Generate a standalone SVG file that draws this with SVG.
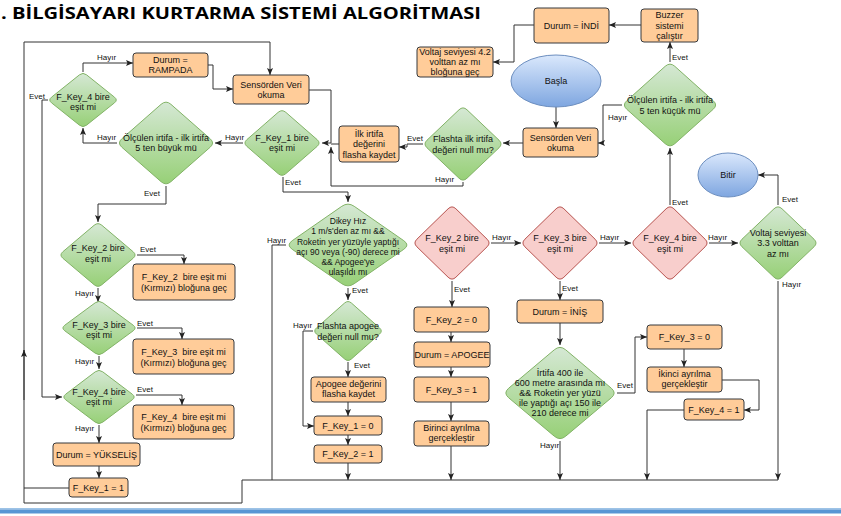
<svg xmlns="http://www.w3.org/2000/svg" xmlns:xlink="http://www.w3.org/1999/xlink" width="841" height="516" viewBox="0 0 841 516">
<defs>
<linearGradient id="gG" x1="0" y1="0" x2="0" y2="1"><stop offset="0" stop-color="#d5e8d4"/><stop offset="1" stop-color="#97d077"/></linearGradient>
<linearGradient id="gB" x1="0" y1="0" x2="0" y2="1"><stop offset="0" stop-color="#dae8fc"/><stop offset="1" stop-color="#7ea6e0"/></linearGradient>
<path id="dia" d="M-0.1,-0.9 Q0,-1 0.1,-0.9 L0.9,-0.1 Q1,0 0.9,0.1 L0.1,0.9 Q0,1 -0.1,0.9 L-0.9,0.1 Q-1,0 -0.9,-0.1 Z" vector-effect="non-scaling-stroke"/>
<marker id="ar" markerUnits="userSpaceOnUse" markerWidth="8" markerHeight="8" refX="7" refY="3" orient="auto" overflow="visible"><path d="M0,0 L7,3 L0,6 L1.5,3 Z" fill="#222"/></marker>
</defs>
<style>
.box{fill:#ffcc99;stroke:#36393d;stroke-width:1}
.g{fill:url(#gG);stroke:#82b366;stroke-width:1}
.r{fill:#f8cecc;stroke:#b85450;stroke-width:1}
.e{fill:url(#gB);stroke:#6c8ebf;stroke-width:1}
.t{font-family:"Liberation Sans",Arial,sans-serif;font-size:9px;fill:#111;text-anchor:middle}
.s{font-size:8.5px}
.p{white-space:pre}
.l{font-family:"Liberation Sans",Arial,sans-serif;font-size:8px;fill:#111}
.c{fill:none;stroke:#333;stroke-width:1}
.a{marker-end:url(#ar)}
</style>
<rect width="841" height="516" fill="#fff"/>
<text x="1" y="19" font-family="'Open Sans','Liberation Sans',sans-serif" font-weight="bold" font-size="16" textLength="480" lengthAdjust="spacingAndGlyphs" fill="#000">. BİLGİSAYARI KURTARMA SİSTEMİ ALGORİTMASI</text>
<rect x="0" y="508" width="841" height="1.5" fill="#9dc3e6"/>
<rect x="0" y="509.5" width="841" height="4" fill="#5896d4"/>

<g id="connectors">
<path class="c" d="M778,480 H242 V503 H24 V350"/>
<path class="c a" d="M24,400 V350"/>
<path class="c" d="M128,488 H24"/>
<path class="c a" d="M24,352 V42 H270 V75"/>
<path class="c a" d="M83,72 V63 H133"/>
<path class="c a" d="M208,65 H213 V89 H233"/>
<path class="c a" d="M48,100 H42 V397 H62"/>
<path class="c a" d="M117,143 H83 V128"/>
<path class="c a" d="M243,143 H215"/>
<path class="c a" d="M166,186 V204 H98 V222"/>
<path class="c a" d="M309,90 H331 V143 H322"/>
<path class="c" d="M339,144 H331"/>
<path class="c a" d="M463,182 V186 H331 V147"/>
<path class="c a" d="M423,144 H407 V147 H399"/>
<path class="c a" d="M523,143 H503"/>
<path class="c a" d="M556,107 V128"/>
<path class="c a" d="M622,105 H603 V143 H598"/>
<path class="c a" d="M670,62 V42"/>
<path class="c a" d="M641,25 H609"/>
<path class="c a" d="M534,25 H514 V62 H493"/>
<path class="c a" d="M283,177 V192 H348 V202"/>
<path class="c" d="M286,245 H272 V480"/>
<path class="c a" d="M348,288 V300"/>
<path class="c a" d="M313,331 H303 V426 H314"/>
<path class="c a" d="M348,362 V377"/>
<path class="c a" d="M348,402 V416"/>
<path class="c a" d="M348,435 V445"/>
<path class="c a" d="M348,463 V480"/>
<path class="c a" d="M491,243 H521"/>
<path class="c a" d="M452,281 V307"/>
<path class="c a" d="M451,332 V342"/>
<path class="c a" d="M451,367 V377"/>
<path class="c a" d="M451,402 V421"/>
<path class="c a" d="M451,446 V480"/>
<path class="c a" d="M599,243 H631"/>
<path class="c a" d="M560,281 V300"/>
<path class="c a" d="M560,323 V345"/>
<path class="c a" d="M617,393 H635 V337 H647"/>
<path class="c a" d="M560,441 V480"/>
<path class="c a" d="M684,349 V367"/>
<path class="c a" d="M722,380 H759 V410 H744"/>
<path class="c a" d="M684,410 H647 V480"/>
<path class="c a" d="M709,243 H738"/>
<path class="c a" d="M670,205 V148"/>
<path class="c a" d="M778,205 V175 H758"/>
<path class="c a" d="M778,281 V480"/>
<path class="c a" d="M137,255 H184 V264"/>
<path class="c a" d="M98,288 V302"/>
<path class="c a" d="M137,328 H182 V339"/>
<path class="c a" d="M99,356 V369"/>
<path class="c a" d="M136,395 H182 V405"/>
<path class="c a" d="M99,425 V443"/>
<path class="c a" d="M99,466 V478"/>
<text class="l" x="97" y="60">Hayır</text>
<text class="l" x="29" y="99">Evet</text>
<text class="l" x="97" y="140">Hayır</text>
<text class="l" x="225" y="140">Hayır</text>
<text class="l" x="144" y="196">Evet</text>
<text class="l" x="435" y="182">Hayır</text>
<text class="l" x="407" y="141">Evet</text>
<text class="l" x="608" y="120">Hayır</text>
<text class="l" x="672" y="60">Evet</text>
<text class="l" x="285" y="185">Evet</text>
<text class="l" x="267" y="243">Hayır</text>
<text class="l" x="352" y="293">Evet</text>
<text class="l" x="293" y="328">Hayır</text>
<text class="l" x="354" y="368">Evet</text>
<text class="l" x="492" y="240">Hayır</text>
<text class="l" x="454" y="292">Evet</text>
<text class="l" x="600" y="240">Hayır</text>
<text class="l" x="562" y="291">Evet</text>
<text class="l" x="617" y="388">Evet</text>
<text class="l" x="540" y="448">Hayır</text>
<text class="l" x="708" y="240">Hayır</text>
<text class="l" x="672" y="205">Evet</text>
<text class="l" x="782" y="202">Evet</text>
<text class="l" x="782" y="287">Hayır</text>
<text class="l" x="140" y="252">Evet</text>
<text class="l" x="75" y="296">Hayır</text>
<text class="l" x="137" y="326">Evet</text>
<text class="l" x="75" y="364">Hayır</text>
<text class="l" x="137" y="392">Evet</text>
<text class="l" x="75" y="431">Hayır</text>
</g>

<g id="n-rampada"><rect class="box" x="133" y="53" width="75" height="24" rx="3"/><text class="t"><tspan x="170.5" y="62.5">Durum =</tspan><tspan x="170.5" y="73">RAMPADA</tspan></text></g>
<g id="n-sensor1"><rect class="box" x="233" y="75" width="76" height="29" rx="3"/><text class="t"><tspan x="271" y="87.5">Sensörden Veri</tspan><tspan x="271" y="98">okuma</tspan></text></g>
<g id="n-ilk"><rect class="box" x="339" y="126" width="60" height="36" rx="3"/><text class="t"><tspan x="369" y="136.5">İlk irtifa</tspan><tspan x="369" y="147">değerini</tspan><tspan x="369" y="157.5">flasha kaydet</tspan></text></g>
<g id="n-sensor2"><rect class="box" x="523" y="128" width="75" height="29" rx="3"/><text class="t"><tspan x="560.5" y="140.5">Sensörden Veri</tspan><tspan x="560.5" y="151">okuma</tspan></text></g>
<g id="n-indi"><rect class="box" x="534" y="8" width="75" height="35" rx="3"/><text class="t" x="571.5" y="28.7">Durum = İNDİ</text></g>
<g id="n-buzzer"><rect class="box" x="641" y="9" width="57" height="33" rx="3"/><text class="t"><tspan x="669.5" y="18.2">Buzzer</tspan><tspan x="669.5" y="28.5">sistemi</tspan><tspan x="669.5" y="38.8">çalıştır</tspan></text></g>
<g id="n-volt42"><rect class="box" x="417" y="47" width="76" height="30" rx="3"/><text class="t"><tspan x="455" y="55">Voltaj seviyesi 4.2</tspan><tspan x="455" y="65">volttan az mı</tspan><tspan x="455" y="75">bloğuna geç</tspan></text></g>
<g id="n-fk2box"><rect class="box" x="133" y="264" width="102" height="36" rx="3"/><text class="t p"><tspan x="184" y="280">F_Key_2  bire eşit mi</tspan><tspan x="184" y="290.5">(Kırmızı) bloğuna geç</tspan></text></g>
<g id="n-fk3box"><rect class="box" x="133" y="339" width="101" height="35" rx="3"/><text class="t p"><tspan x="183.5" y="355.3">F_Key_3  bire eşit mi</tspan><tspan x="183.5" y="366">(Kırmızı) bloğuna geç</tspan></text></g>
<g id="n-fk4box"><rect class="box" x="133" y="405" width="101" height="34" rx="3"/><text class="t p"><tspan x="183.5" y="420">F_Key_4  bire eşit mi</tspan><tspan x="183.5" y="431">(Kırmızı) bloğuna geç</tspan></text></g>
<g id="n-yukselis"><rect class="box" x="53" y="443" width="87" height="23" rx="3"/><text class="t" x="96.5" y="457.7">Durum = YÜKSELİŞ</text></g>
<g id="n-fk1eq1"><rect class="box" x="69" y="478" width="59" height="19" rx="3"/><text class="t" x="98.5" y="490.7">F_Key_1 = 1</text></g>
<g id="n-apogeekaydet"><rect class="box" x="311" y="377" width="75" height="25" rx="3"/><text class="t"><tspan x="348.5" y="386.5">Apogee değerini</tspan><tspan x="348.5" y="397">flasha kaydet</tspan></text></g>
<g id="n-fk1eq0"><rect class="box" x="314" y="416" width="68" height="19" rx="3"/><text class="t" x="348" y="428.7">F_Key_1 = 0</text></g>
<g id="n-fk2eq1"><rect class="box" x="314" y="445" width="68" height="18" rx="3"/><text class="t" x="348" y="457.2">F_Key_2 = 1</text></g>
<g id="n-fk2eq0"><rect class="box" x="414" y="307" width="75" height="25" rx="3"/><text class="t" x="451.5" y="322.7">F_Key_2 = 0</text></g>
<g id="n-apogee"><rect class="box" x="414" y="342" width="76" height="25" rx="3"/><text class="t" x="452" y="357.7">Durum = APOGEE</text></g>
<g id="n-fk3eq1"><rect class="box" x="414" y="377" width="75" height="25" rx="3"/><text class="t" x="451.5" y="392.7">F_Key_3 = 1</text></g>
<g id="n-birinci"><rect class="box" x="414" y="421" width="75" height="25" rx="3"/><text class="t"><tspan x="451.5" y="431">Birinci ayrılma</tspan><tspan x="451.5" y="441">gerçekleştir</tspan></text></g>
<g id="n-inis"><rect class="box" x="517" y="300" width="86" height="23" rx="3"/><text class="t" x="560" y="314.7">Durum = İNİŞ</text></g>
<g id="n-fk3eq0"><rect class="box" x="647" y="325" width="75" height="24" rx="3"/><text class="t" x="684.5" y="340.2">F_Key_3 = 0</text></g>
<g id="n-ikinci"><rect class="box" x="647" y="367" width="75" height="25" rx="3"/><text class="t"><tspan x="684.5" y="376.5">İkinci ayrılma</tspan><tspan x="684.5" y="387">gerçekleştir</tspan></text></g>
<g id="n-fk4eq1"><rect class="box" x="684" y="399" width="60" height="21" rx="3"/><text class="t" x="714" y="412.7">F_Key_4 = 1</text></g>

<g id="n-fk4top"><use class="g" xlink:href="#dia" href="#dia" transform="translate(83 100) scale(35 28)"/><text class="t"><tspan x="83" y="100">F_Key_4 bire</tspan><tspan x="83" y="110">eşit mi</tspan></text></g>
<g id="n-olcbuyuk"><use class="g" xlink:href="#dia" href="#dia" transform="translate(166 143) scale(49 43)"/><text class="t"><tspan x="166" y="140.5">Ölçülen irtifa - ilk irtifa</tspan><tspan x="166" y="151">5 ten büyük mü</tspan></text></g>
<g id="n-fk1"><use class="g" xlink:href="#dia" href="#dia" transform="translate(282 143) scale(39 34)"/><text class="t"><tspan x="282" y="141.2">F_Key_1 bire</tspan><tspan x="282" y="151.2">eşit mi</tspan></text></g>
<g id="n-flashilk"><use class="g" xlink:href="#dia" href="#dia" transform="translate(463 144) scale(40 38)"/><text class="t"><tspan x="463" y="142.2">Flashta ilk irtifa</tspan><tspan x="463" y="152.5">değeri null mu?</tspan></text></g>
<g id="n-olckucuk"><use class="g" xlink:href="#dia" href="#dia" transform="translate(670 105) scale(48 43)"/><text class="t"><tspan x="670" y="103.2">Ölçülen irtifa - ilk irtifa</tspan><tspan x="670" y="114">5 ten küçük mü</tspan></text></g>
<g id="n-fk2left"><use class="g" xlink:href="#dia" href="#dia" transform="translate(98 255) scale(39 33)"/><text class="t"><tspan x="98" y="251.2">F_Key_2 bire</tspan><tspan x="98" y="262.2">eşit mi</tspan></text></g>
<g id="n-fk3left"><use class="g" xlink:href="#dia" href="#dia" transform="translate(99 328) scale(38 28)"/><text class="t"><tspan x="99" y="328">F_Key_3 bire</tspan><tspan x="99" y="337.5">eşit mi</tspan></text></g>
<g id="n-fk4left"><use class="g" xlink:href="#dia" href="#dia" transform="translate(99 397) scale(37 28)"/><text class="t"><tspan x="99" y="395.2">F_Key_4 bire</tspan><tspan x="99" y="405">eşit mi</tspan></text></g>
<g id="n-dikey"><use class="g" xlink:href="#dia" href="#dia" transform="translate(348 245) scale(62 43)"/><text class="t s"><tspan x="348" y="224">Dikey Hız</tspan><tspan x="348" y="234.3">1 m/s'den az mı &amp;&amp;</tspan><tspan x="348" y="244.5">Roketin yer yüzüyle yaptığı</tspan><tspan x="348" y="255">açı 90 veya (-90) derece mi</tspan><tspan x="348" y="265">&amp;&amp; Apogee'ye</tspan><tspan x="348" y="275">ulaşıldı mı</tspan></text></g>
<g id="n-flashapogee"><use class="g" xlink:href="#dia" href="#dia" transform="translate(348 331) scale(35 31)"/><text class="t"><tspan x="348" y="329">Flashta apogee</tspan><tspan x="348" y="339.5">değeri null mu?</tspan></text></g>
<g id="n-fk2red"><use class="r" xlink:href="#dia" href="#dia" transform="translate(452 243) scale(39 38)"/><text class="t"><tspan x="452" y="241.2">F_Key_2 bire</tspan><tspan x="452" y="251.5">eşit mi</tspan></text></g>
<g id="n-fk3red"><use class="r" xlink:href="#dia" href="#dia" transform="translate(560 243) scale(39 38)"/><text class="t"><tspan x="560" y="241.2">F_Key_3 bire</tspan><tspan x="560" y="251.5">eşit mi</tspan></text></g>
<g id="n-fk4red"><use class="r" xlink:href="#dia" href="#dia" transform="translate(670 243) scale(39 38)"/><text class="t"><tspan x="670" y="241.2">F_Key_4 bire</tspan><tspan x="670" y="251.5">eşit mi</tspan></text></g>
<g id="n-voltaj33"><use class="g" xlink:href="#dia" href="#dia" transform="translate(778 243) scale(40 38)"/><text class="t"><tspan x="778" y="236.2">Voltaj seviyesi</tspan><tspan x="778" y="246.3">3.3 volttan</tspan><tspan x="778" y="256.5">az mı</tspan></text></g>
<g id="n-irtifa"><use class="g" xlink:href="#dia" href="#dia" transform="translate(560 393) scale(57 48)"/><text class="t"><tspan x="560" y="376">İrtifa 400 ile</tspan><tspan x="560" y="386">600 metre arasında mı</tspan><tspan x="560" y="395.5">&amp;&amp; Roketin yer yüzü</tspan><tspan x="560" y="406">ile yaptığı açı 150 ile</tspan><tspan x="560" y="416">210 derece mi</tspan></text></g>

<g id="n-basla"><ellipse class="e" cx="556" cy="81" rx="45" ry="26"/><text class="t" x="556" y="84">Başla</text></g>
<g id="n-bitir"><ellipse class="e" cx="728" cy="175" rx="30" ry="22"/><text class="t" x="728" y="178">Bitir</text></g>
</svg>
